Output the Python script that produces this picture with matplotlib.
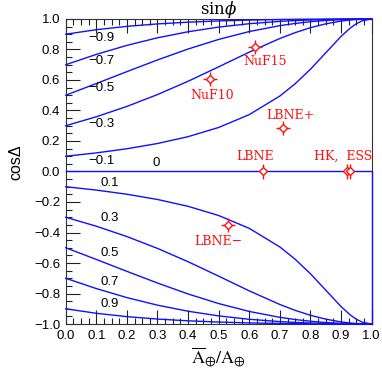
import matplotlib
matplotlib.use("Agg")
import matplotlib.pyplot as plt
from matplotlib.ticker import FixedLocator, MultipleLocator

plt.rcParams['mathtext.fontset'] = 'stix'

# x = Abar/A grid
x_grid = [0, 0.1, 0.2, 0.3, 0.4, 0.5, 0.6, 0.7, 0.75, 0.8, 0.85, 0.9, 0.93, 0.95, 0.97, 1.0]

# cos(Delta) curves, labelled by sin(phi)
cos_sm09 = [0.9, 0.9297, 0.9516, 0.9676, 0.9791, 0.9872, 0.9928, 0.9964, 0.9976, 0.9986, 0.9992, 0.9997, 0.9998, 0.9999, 1.0, 1.0]
cos_sm07 = [0.7, 0.7677, 0.8269, 0.8765, 0.9162, 0.9468, 0.9690, 0.9842, 0.9896, 0.9936, 0.9966, 0.9986, 0.9993, 0.9997, 0.9999, 1.0]
cos_sm05 = [0.5, 0.5766, 0.6547, 0.7313, 0.8030, 0.8660, 0.9177, 0.9563, 0.9707, 0.9820, 0.9903, 0.9959, 0.9980, 0.9990, 0.9997, 1.0]
cos_sm03 = [0.3, 0.3588, 0.4266, 0.5043, 0.5916, 0.6863, 0.7828, 0.8721, 0.9105, 0.9429, 0.9683, 0.9863, 0.9934, 0.9967, 0.9988, 1.0]
cos_sm01 = [0.1, 0.1219, 0.1491, 0.1835, 0.2283, 0.2887, 0.3730, 0.4949, 0.5754, 0.6708, 0.7783, 0.8859, 0.9406, 0.9690, 0.9887, 1.0]
cos_sp01 = [-0.1, -0.1219, -0.1491, -0.1835, -0.2283, -0.2887, -0.3730, -0.4949, -0.5754, -0.6708, -0.7783, -0.8859, -0.9406, -0.9690, -0.9887, -1.0]
cos_sp03 = [-0.3, -0.3588, -0.4266, -0.5043, -0.5916, -0.6863, -0.7828, -0.8721, -0.9105, -0.9429, -0.9683, -0.9863, -0.9934, -0.9967, -0.9988, -1.0]
cos_sp05 = [-0.5, -0.5766, -0.6547, -0.7313, -0.8030, -0.8660, -0.9177, -0.9563, -0.9707, -0.9820, -0.9903, -0.9959, -0.9980, -0.9990, -0.9997, -1.0]
cos_sp07 = [-0.7, -0.7677, -0.8269, -0.8765, -0.9162, -0.9468, -0.9690, -0.9842, -0.9896, -0.9936, -0.9966, -0.9986, -0.9993, -0.9997, -0.9999, -1.0]
cos_sp09 = [-0.9, -0.9297, -0.9516, -0.9676, -0.9791, -0.9872, -0.9928, -0.9964, -0.9976, -0.9986, -0.9992, -0.9997, -0.9998, -0.9999, -1.0, -1.0]
zero_x = [0, 1.0, 1.0]
zero_y = [0, 0, -1.0]

curves = [cos_sm09, cos_sm07, cos_sm05, cos_sm03, cos_sm01,
          cos_sp01, cos_sp03, cos_sp05, cos_sp07, cos_sp09]
curve_labels = ["\u22120.9", "\u22120.7", "\u22120.5", "\u22120.3", "\u22120.1", "0",
                "0.1", "0.3", "0.5", "0.7", "0.9"]
label_x = [0.075, 0.075, 0.075, 0.075, 0.075, 0.285, 0.113, 0.113, 0.113, 0.113, 0.113]
label_y = [0.877, 0.725, 0.546, 0.311, 0.069, 0.054, -0.078, -0.307, -0.537, -0.722, -0.871]

# experiments
exp_names = ["NuF10", "NuF15", "LBNE+", "LBNE", "HK", "ESS", "LBNE\u2212"]
exp_x = [0.471, 0.619, 0.709, 0.644, 0.918, 0.929, 0.531]
exp_y = [0.607, 0.818, 0.283, 0.0, 0.0, 0.0, -0.351]
exp_xerr = [0.023, 0.023, 0.023, 0.0, 0.0, 0.0, 0.023]
exp_yerr = [0.046, 0.046, 0.046, 0.046, 0.046, 0.046, 0.046]
text_names = ["NuF10", "NuF15", "LBNE+", "LBNE", "HK,  ESS", "LBNE\u2212"]
text_x = [0.479, 0.651, 0.733, 0.619, 0.907, 0.499]
text_y = [0.495, 0.72, 0.37, 0.097, 0.097, -0.456]

xticks = [0.0, 0.1, 0.2, 0.3, 0.4, 0.5, 0.6, 0.7, 0.8, 0.9, 1.0]
xticklabels = ["0.0", "0.1", "0.2", "0.3", "0.4", "0.5", "0.6", "0.7", "0.8", "0.9", "1.0"]
yticks = [-1.0, -0.8, -0.6, -0.4, -0.2, 0.0, 0.2, 0.4, 0.6, 0.8, 1.0]
yticklabels = ["\u22121.0", "\u22120.8", "\u22120.6", "\u22120.4", "\u22120.2", "0.0",
               "0.2", "0.4", "0.6", "0.8", "1.0"]

blue = "#1010ff"
red = "#ff1010"

fig = plt.figure(figsize=(3.82, 3.72), dpi=100)
ax = fig.add_axes([0.172, 0.129, 0.801, 0.820])

for c in curves:
    ax.plot(x_grid, c, color=blue, lw=1.0, clip_on=False, zorder=3)
ax.plot(zero_x, zero_y, color=blue, lw=1.0, clip_on=False, zorder=3)

for t, lx, ly in zip(curve_labels, label_x, label_y):
    ax.text(lx, ly, t, ha='left', va='center', fontsize=9.5, family='Liberation Sans', color='black')

ax.errorbar(exp_x, exp_y, xerr=exp_xerr, yerr=exp_yerr, fmt='none', ecolor=red,
            elinewidth=1.0, capsize=0, zorder=4)
ax.plot(exp_x, exp_y, linestyle='none', marker='D', markersize=4.0, markerfacecolor='white',
        markeredgecolor=red, markeredgewidth=1.0, zorder=5)
for t, tx, ty in zip(text_names, text_x, text_y):
    ax.text(tx, ty, t, ha='center', va='center', fontsize=9, family='DejaVu Serif', color=red)

ax.set_xlim(0, 1)
ax.set_ylim(-1, 1)
ax.xaxis.set_major_locator(FixedLocator(xticks))
ax.set_xticklabels(xticklabels)
ax.yaxis.set_major_locator(FixedLocator(yticks))
ax.set_yticklabels(yticklabels)
ax.xaxis.set_minor_locator(MultipleLocator(0.025))
ax.yaxis.set_minor_locator(MultipleLocator(0.05))
ax.tick_params(which='both', direction='in', top=True, bottom=True, left=True, right=False,
               color='#222222', width=0.8)
ax.tick_params(which='major', length=10, pad=4, labelsize=9.5)
ax.tick_params(which='minor', length=4)
for lab in ax.get_xticklabels() + ax.get_yticklabels():
    lab.set_family('Liberation Sans')
for sp in ax.spines.values():
    sp.set_linewidth(0.8)
    sp.set_color('#333333')

fig.text(0.5725, 0.962, r'$\mathrm{sin}\phi$', ha='center', va='baseline', fontsize=12,
         math_fontfamily='dejavuserif')
fig.text(0.5725, 0.040, r'$\overline{\mathrm{A}}_{\oplus}/\mathrm{A}_{\oplus}$', ha='center',
         va='center', fontsize=13)
fig.text(0.042, 0.565, "cos\u0394", rotation=90, ha='center', va='center', fontsize=11.5,
         family='Liberation Sans')

fig.savefig("out.png", dpi=100)
